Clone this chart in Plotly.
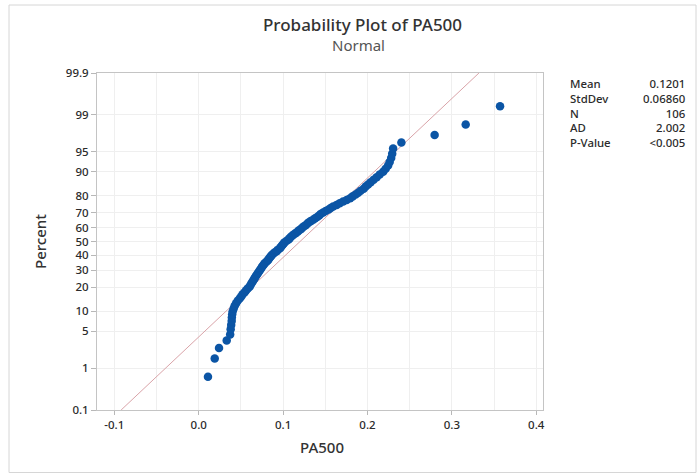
import plotly.graph_objects as go
from statistics import NormalDist

# PA500 sample, sorted ascending (n = 106)
pa500 = [
    0.0110, 0.0190, 0.0241, 0.0332, 0.0373, 0.0379, 0.0385, 0.0391, 0.0393, 0.0397,
    0.0403, 0.0415, 0.0427, 0.0444, 0.0462, 0.0486, 0.0504, 0.0521, 0.0545, 0.0563,
    0.0581, 0.0604, 0.0616, 0.0628, 0.0640, 0.0652, 0.0664, 0.0675, 0.0687, 0.0699,
    0.0711, 0.0723, 0.0735, 0.0746, 0.0758, 0.0770, 0.0782, 0.0800, 0.0818, 0.0829,
    0.0841, 0.0853, 0.0865, 0.0883, 0.0900, 0.0924, 0.0936, 0.0960, 0.0972, 0.0983,
    0.0995, 0.1007, 0.1019, 0.1043, 0.1066, 0.1078, 0.1090, 0.1108, 0.1126, 0.1149,
    0.1173, 0.1185, 0.1209, 0.1226, 0.1244, 0.1268, 0.1286, 0.1303, 0.1327, 0.1357,
    0.1380, 0.1404, 0.1428, 0.1445, 0.1475, 0.1505, 0.1540, 0.1564, 0.1594, 0.1635,
    0.1671, 0.1712, 0.1754, 0.1795, 0.1825, 0.1860, 0.1890, 0.1919, 0.1955, 0.1979,
    0.2008, 0.2038, 0.2073, 0.2109, 0.2145, 0.2186, 0.2216, 0.2245, 0.2263, 0.2281,
    0.2293, 0.2304, 0.2402, 0.2796, 0.3164, 0.3571,
]

# Summary statistics shown in the side table
stat_names = ["Mean", "StdDev", "N", "AD", "P-Value"]
stat_values = ["0.1201", "0.06860", "106", "2.002", "<0.005"]
MEAN = 0.1201
STDEV = 0.06860

# Percent scale tick labels
pct_ticks = [0.1, 1, 5, 10, 20, 30, 40, 50, 60, 70, 80, 90, 95, 99, 99.9]
x_ticks = [-0.1, 0.0, 0.1, 0.2, 0.3, 0.4]

nd = NormalDist()
n = len(pa500)
# Median-rank plotting positions mapped onto the normal quantile scale
z_pts = [nd.inv_cdf((i - 0.3) / (n + 0.4)) for i in range(1, n + 1)]
z_lo, z_hi = nd.inv_cdf(0.001), nd.inv_cdf(0.999)

# Fitted normal line: x = mean + sd * z
line_z = [z_lo, z_hi]
line_x = [MEAN + STDEV * z for z in line_z]

# Pixel layout of the plotting area
W, H = 697, 475
L, R, T, B = 97, 543, 73, 410
pw, ph = R - L, B - T


def px(x):
    return (x - L) / pw


def py(y):
    return (B - y) / ph


fig = go.Figure()
fig.add_trace(go.Scatter(
    x=line_x, y=line_z, mode="lines",
    line=dict(color="#d9a3a8", width=1), hoverinfo="skip",
))
fig.add_trace(go.Scatter(
    x=pa500, y=z_pts, mode="markers",
    marker=dict(color="#0b55a5", size=8.5, line=dict(width=0)),
))

font_main = "Noto Sans, Open Sans, DejaVu Sans, sans-serif"
tick_font = dict(family=font_main, size=11.5, color="#2b2b2b", weight=500)

fig.update_layout(
    width=W, height=H,
    margin=dict(l=L, r=W - R, t=T, b=H - B, pad=0),
    paper_bgcolor="white", plot_bgcolor="white",
    showlegend=False,
    font=dict(family=font_main),
    xaxis=dict(
        range=[-0.1205, 0.408],
        tickvals=x_ticks, ticktext=[f"{v:.1f}" for v in x_ticks],
        tickfont=tick_font,
        showgrid=True, gridcolor="#efefef", gridwidth=1,
        minor=dict(dtick=0.05, tick0=0, showgrid=True, gridcolor="#efefef", ticks=""),
        ticks="outside", ticklen=4, tickcolor="#b8b8b8",
        showline=True, linecolor="#c4c4c4", linewidth=1, mirror=True,
        zeroline=False,
    ),
    yaxis=dict(
        range=[z_lo, z_hi],
        tickvals=[nd.inv_cdf(p / 100) for p in pct_ticks],
        ticktext=[f"{p:g}" for p in pct_ticks],
        tickfont=tick_font,
        showgrid=True, gridcolor="#efefef", gridwidth=1,
        ticks="outside", ticklen=5, tickcolor="#b8b8b8",
        showline=True, linecolor="#c4c4c4", linewidth=1, mirror=True,
        zeroline=False,
    ),
)

ann = [
    dict(text="Probability Plot of PA500", x=px(362), y=py(25),
         font=dict(size=17, color="#333333", weight=500)),
    dict(text="Normal", x=px(358), y=py(45),
         font=dict(size=15, color="#555555")),
    dict(text="Percent", x=px(40), y=py(241), textangle=-90,
         font=dict(size=15, color="#333333", weight=500)),
    dict(text="PA500", x=px(322), y=py(447),
         font=dict(size=15, color="#333333", weight=500)),
    # Statistics table: one column of names, one of right-aligned values
    dict(text="<br>".join(stat_names), x=px(568), y=py(74), xanchor="left",
         yanchor="top", align="left",
         font=dict(size=11.4, color="#2b2b2b", weight=500)),
    dict(text="<br>".join(stat_values), x=px(688), y=py(74), xanchor="right",
         yanchor="top", align="right",
         font=dict(size=11.4, color="#2b2b2b", weight=500)),
]
for a in ann:
    a.update(xref="paper", yref="paper", showarrow=False)
    a.setdefault("xanchor", "center")
    a.setdefault("yanchor", "middle")
fig.update_layout(annotations=ann)

# Outer frame around the whole graph
fig.add_shape(type="rect", xref="paper", yref="paper",
              x0=px(9), x1=px(696), y0=py(472.5), y1=py(5),
              line=dict(color="#d6d6d6", width=1), layer="below")

fig.write_html("out.html")
